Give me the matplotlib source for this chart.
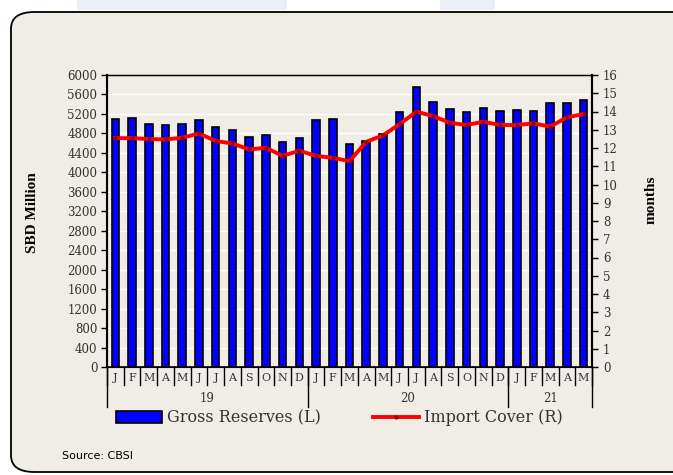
import matplotlib
matplotlib.use("Agg")
import matplotlib.pyplot as plt
import numpy as np
from matplotlib.patches import FancyBboxPatch, Rectangle
from matplotlib.lines import Line2D
import matplotlib.transforms as mtransforms

months = ["J","F","M","A","M","J","J","A","S","O","N","D",
          "J","F","M","A","M","J","J","A","S","O","N","D",
          "J","F","M","A","M"]
years = ["19", "20", "21"]
year_counts = [12, 12, 5]

gross_reserves = [5095, 5109, 4985, 4971, 4992, 5074, 4937, 4869, 4731, 4766, 4622, 4704,
                  5081, 5088, 4581, 4642, 4786, 5246, 5746, 5451, 5294, 5246, 5314, 5259,
                  5280, 5259, 5431, 5431, 5486]
import_cover = [12.54, 12.54, 12.49, 12.47, 12.56, 12.80, 12.38, 12.25, 11.92, 12.01, 11.57, 11.85,
                11.57, 11.46, 11.28, 12.34, 12.69, 13.31, 13.99, 13.75, 13.38, 13.26, 13.44, 13.26,
                13.26, 13.35, 13.17, 13.68, 13.86]

W, H = 673, 475
fig = plt.figure(figsize=(W/100, H/100), dpi=100)
fig.patch.set_facecolor("white")

# faint top band patches
for x0, x1 in [(77, 287), (440, 495)]:
    fig.patches.append(Rectangle((x0/W, 1-10/H), (x1-x0)/W, 10/H, transform=fig.transFigure,
                                 facecolor="#EBEFF7", edgecolor="none", zorder=-3))
# rounded box
box = FancyBboxPatch((11/W, 3/H), 700/W, (H-12-3)/H,
                     boxstyle="round,pad=0,rounding_size=0.035",
                     transform=fig.transFigure, facecolor="#F0EDE6",
                     edgecolor="black", linewidth=1.3, zorder=-2)
fig.patches.append(box)

serif = "DejaVu Serif"
ax = fig.add_axes([107/W, 1-367/H, (592-107)/W, (367-75)/H])
ax.set_facecolor("#F0EDE6")
x = np.arange(len(months))
ax.bar(x, gross_reserves, width=0.45, color="#0000FF", edgecolor="black", linewidth=1.2, zorder=3)
ax.set_ylim(0, 6000)
ax.set_xlim(-0.5, len(months)-0.5)
ax.set_yticks(np.arange(0, 6001, 400))
ax.yaxis.grid(True, color="white", linewidth=1.0, zorder=0)
ax.set_axisbelow(True)
ax.set_xticks([])
ax.tick_params(axis="y", direction="out", length=4, width=1, labelsize=8.5, colors="black",
               labelcolor="#333333", pad=3)
for lab in ax.get_yticklabels():
    lab.set_family(serif)
for s in ["left", "right"]:
    ax.spines[s].set_linewidth(1.5)
ax.spines["top"].set_linewidth(1.0)
ax.spines["bottom"].set_linewidth(1.2)

ax2 = ax.twinx()
ax2.plot(x, import_cover, color="#FF0000", linewidth=2.8, marker="o", markersize=2,
         markerfacecolor="#990000", markeredgecolor="#990000", zorder=4)
ax2.set_ylim(0, 16)
ax2.set_yticks(np.arange(0, 17, 1))
ax2.tick_params(axis="y", direction="out", length=4, width=1, labelsize=8.5,
                labelcolor="#333333", pad=4)
for lab in ax2.get_yticklabels():
    lab.set_family(serif)
ax2.spines["right"].set_linewidth(1.5)

# x axis category decorations
trans = mtransforms.blended_transform_factory(ax.transData, ax.transAxes)
px = 1/(367-75)
for i in range(len(months)+1):
    xb = i - 0.5
    ax.plot([xb, xb], [0, -18*px], transform=trans, color="black", linewidth=1, clip_on=False)
for i, m in enumerate(months):
    ax.text(i, -11*px, m, transform=trans, ha="center", va="center", fontsize=8,
            family=serif, color="#333333")
bounds = np.concatenate([[0], np.cumsum(year_counts)]) - 0.5
for b in bounds:
    ax.plot([b, b], [0, -40*px], transform=trans, color="black", linewidth=1, clip_on=False)
for j, yl in enumerate(years):
    ax.text((bounds[j]+bounds[j+1])/2, -32*px, yl, transform=trans, ha="center", va="center",
            fontsize=8.5, family=serif, color="#333333")

fig.text(32/W, 1-213/H, "SBD Million", rotation=90, ha="center", va="center",
         fontsize=11, family="Liberation Serif", fontweight="bold")
fig.text(651/W, 1-200/H, "months", rotation=90, ha="center", va="center",
         fontsize=11, family="Liberation Serif", fontweight="bold")

handles = [Rectangle((0, 0), 1, 1, facecolor="#0000FF", edgecolor="black", linewidth=1.2),
           Line2D([0], [0], color="#FF0000", linewidth=2.8, marker="o", markersize=2,
                  markerfacecolor="#990000", markeredgecolor="#990000")]
leg = fig.legend(handles, ["Gross Reserves (L)", "Import Cover (R)"], loc="center",
                 bbox_to_anchor=(339/W, 1-418/H), ncol=2, frameon=False,
                 prop={"family": serif, "size": 11.5}, handlelength=2.9, handleheight=0.7,
                 columnspacing=3.25, handletextpad=0.3, markerscale=1)
for t in leg.get_texts():
    t.set_color("#333333")

fig.text(62/W, 1-456/H, "Source: CBSI", ha="left", va="center", fontsize=8,
         family="DejaVu Sans", color="black")

fig.savefig("out.png", dpi=100, facecolor=fig.get_facecolor())
